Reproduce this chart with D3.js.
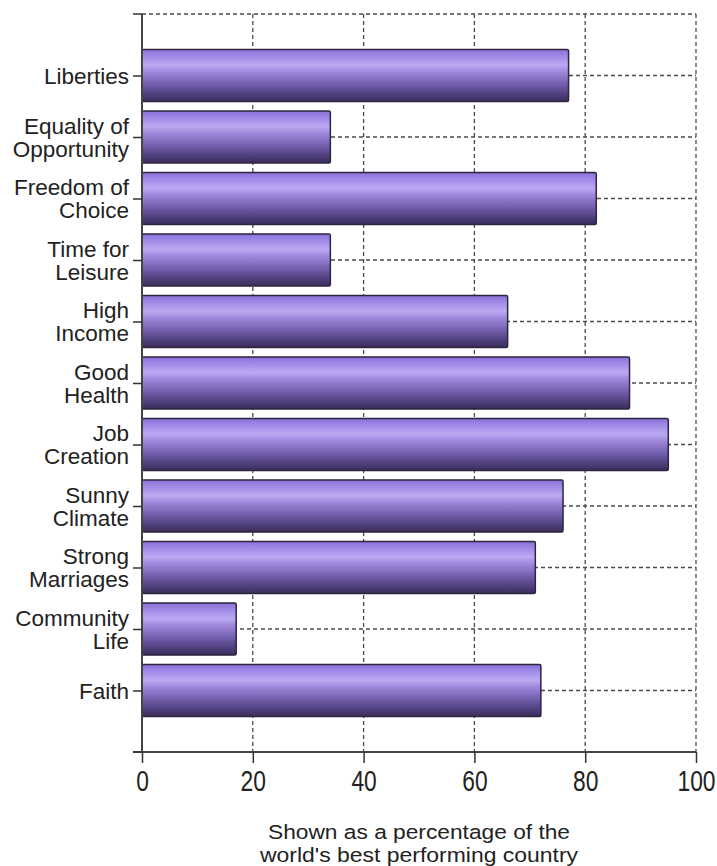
<!DOCTYPE html>
<html>
<head>
<meta charset="utf-8">
<script src="https://cdn.jsdelivr.net/npm/d3@7"></script>
<style>
  html, body { margin: 0; padding: 0; background: #fff; }
  svg { display: block; }
  text { font-family: "Liberation Sans", Arial, sans-serif; fill: #222; }
</style>
</head>
<body>
<svg id="chart" width="717" height="866"></svg>
<script>
const categories = [
  ["Liberties"],
  ["Equality of", "Opportunity"],
  ["Freedom of", "Choice"],
  ["Time for", "Leisure"],
  ["High", "Income"],
  ["Good", "Health"],
  ["Job", "Creation"],
  ["Sunny", "Climate"],
  ["Strong", "Marriages"],
  ["Community", "Life"],
  ["Faith"]
];
const values = [77, 34, 82, 34, 66, 88, 95, 76, 71, 17, 72];
const xTicks = [0, 20, 40, 60, 80, 100];
const axisTitle = ["Shown as a percentage of the", "world's best performing country"];

(function () {
const svg = d3.select("#chart");
const L = 142, R = 696, T = 14, B = 752;
const keys = categories.map(c => c.join(" "));

const x = d3.scaleLinear().domain([0, 100]).range([L, R]);
const step = (B - T) / (keys.length + 1);
const y = d3.scalePoint().domain(keys).range([T + step, B - step]);
const barH = 52;

// gradient
const defs = svg.append("defs");
const grad = defs.append("linearGradient").attr("id", "barGrad")
  .attr("x1", 0).attr("y1", 0).attr("x2", 0).attr("y2", 1);
[[0, "#8a70d8"], [0.12, "#9f88e6"], [0.3, "#bca9f2"], [0.42, "#a18ade"],
 [0.65, "#7661b0"], [0.85, "#514180"], [1, "#3a2d5a"]].forEach(([o, c]) =>
  grad.append("stop").attr("offset", o).attr("stop-color", c));

// grid
const grid = svg.append("g").attr("stroke", "#4a4a4a").attr("stroke-width", 1.3)
  .attr("stroke-dasharray", "4,3").attr("fill", "none");
grid.selectAll("line.v").data(xTicks.filter(d => d > 0)).join("line")
  .attr("x1", d => x(d)).attr("x2", d => x(d))
  .attr("y1", T).attr("y2", B);
grid.selectAll("line.h").data(keys).join("line")
  .attr("x1", L).attr("x2", R)
  .attr("y1", d => y(d)).attr("y2", d => y(d));
grid.append("line").attr("x1", L).attr("x2", R).attr("y1", T).attr("y2", T);

// bars
svg.append("g").selectAll("rect").data(values).join("rect")
  .attr("x", x(0))
  .attr("y", (d, i) => y(keys[i]) - barH / 2)
  .attr("width", d => x(d) - x(0))
  .attr("height", barH)
  .attr("fill", "url(#barGrad)")
  .attr("stroke", "#2e2540")
  .attr("stroke-width", 1.5)
  .attr("rx", 1.5);

// x axis
const xAxis = svg.append("g").attr("transform", `translate(0,${B})`)
  .call(d3.axisBottom(x).tickValues(xTicks).tickSize(11).tickPadding(6).tickSizeOuter(0));
xAxis.select(".domain").attr("stroke", "#444").attr("stroke-width", 2)
  .attr("d", `M${L - 9},0H${R}`);
xAxis.selectAll(".tick line").attr("stroke", "#333").attr("stroke-width", 1.5);
xAxis.selectAll(".tick text").attr("font-size", 24).attr("fill", "#222")
  .style("font-family", "'Liberation Sans', Arial, sans-serif")
  .attr("transform", "scale(0.95,1.22)")
  .attr("dy", "0.71em").attr("y", 14.8);

// y axis
const yAxis = svg.append("g").attr("transform", `translate(${L},0)`)
  .call(d3.axisLeft(y).tickSize(9).tickFormat(""));
yAxis.select(".domain").attr("stroke", "#444").attr("stroke-width", 2)
  .attr("d", `M0,${T}V${B + 1}`);
yAxis.selectAll(".tick line").attr("stroke", "#333").attr("stroke-width", 1.5);
[T, B].forEach(v => yAxis.append("line").attr("x1", -9).attr("x2", 0)
  .attr("y1", v).attr("y2", v).attr("stroke", "#333").attr("stroke-width", 1.5));

// category labels
const lineH = 23;
const lab = svg.append("g").attr("font-size", 22.5).attr("text-anchor", "end");
categories.forEach((lines, i) => {
  const cy = y(keys[i]);
  const n = lines.length;
  const t = lab.append("text").attr("x", L - 13);
  lines.forEach((s, j) => {
    t.append("tspan").attr("x", L - 13)
      .attr("y", cy + (j - (n - 1) / 2) * lineH + 8)
      .text(s);
  });
});

// axis title
const titleW = [302, 318];
axisTitle.forEach((s, j) => svg.append("text")
  .attr("text-anchor", "middle").attr("font-size", 20.5)
  .attr("x", (L + R) / 2).attr("y", 839 + j * 23)
  .attr("textLength", titleW[j]).attr("lengthAdjust", "spacingAndGlyphs")
  .text(s));
})();
</script>
</body>
</html>
